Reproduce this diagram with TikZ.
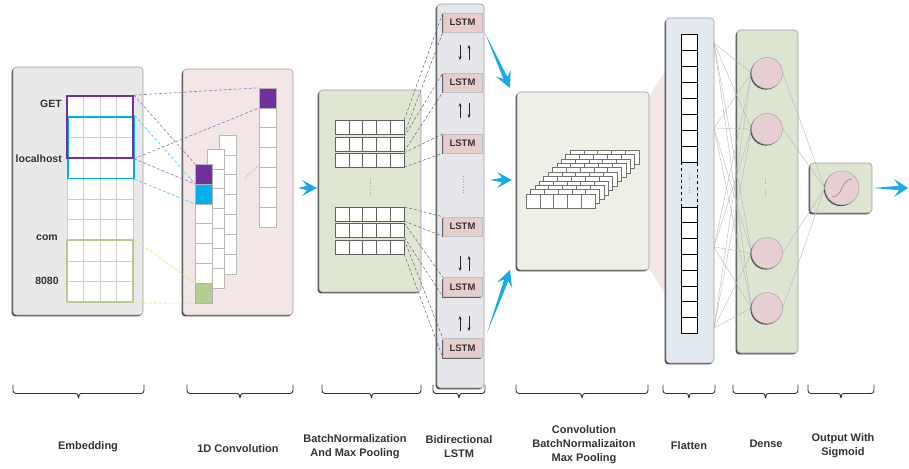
\documentclass[tikz,border=0pt]{standalone}
\usepackage{fontspec}
\setmainfont{Liberation Sans}
\usetikzlibrary{calc,fit,shadows,arrows.meta}
\definecolor{embfill}{HTML}{E9E9E9}
\definecolor{convfill}{HTML}{F2E6E6}
\definecolor{bnfill}{HTML}{DFE6D2}
\definecolor{lstmfill}{HTML}{E5E7ED}
\definecolor{cbfill}{HTML}{EEF0E8}
\definecolor{flatfill}{HTML}{E4EAF2}
\definecolor{densefill}{HTML}{DDE5D1}
\definecolor{purp}{HTML}{7030A0}
\definecolor{cyanc}{HTML}{00B0F0}
\definecolor{greenc}{HTML}{B4CC8E}
\definecolor{lstmbox}{HTML}{E8CDCD}
\definecolor{circfill}{HTML}{E8CFD4}
\definecolor{arrblue}{HTML}{18A9E6}
\definecolor{pinkish}{HTML}{F3E8E8}
\definecolor{txt}{HTML}{333333}
\newcommand\bluearr[5]{%
  \coordinate (bah) at ($(#2)!#3!(#1)$);
  \coordinate (ban) at ($(#2)!#4!(#1)$);
  \fill[arrblue] (#1) -- ($(ban)!2.2pt!90:(#2)$) -- ($(bah)!#5!90:(#2)$) -- (#2)
    -- ($(bah)!#5!-90:(#2)$) -- ($(ban)!2.2pt!-90:(#2)$) -- cycle;}
\newcommand\mybrace[2]{%
  \draw[brc] (#1,384.5) -- (#1,393.5) -- ({(#1+#2)/2-4},393.5);
  \draw[brc] (#2,384.5) -- (#2,393.5) -- ({(#1+#2)/2+4},393.5);
  \draw[draw=black!80, line width=0.9pt, line join=round]
    ({(#1+#2)/2-4.5},393.5) .. controls ({(#1+#2)/2-1},393.5) .. ({(#1+#2)/2},398)
    .. controls ({(#1+#2)/2+1},393.5) .. ({(#1+#2)/2+4.5},393.5);}
\begin{document}
\begin{tikzpicture}[x=1pt,y=-1pt,
  panel/.style={draw=black!38, line width=0.6pt, rounded corners=3.5pt, inner sep=0pt,
    drop shadow={shadow xshift=-1.4pt,shadow yshift=-1.4pt,fill=black!72,opacity=1}},
  colcell/.style={draw=black!28, fill=white, line width=0.6pt},
  bncell/.style={draw=black!62, fill=white, line width=0.6pt},
  stackcell/.style={draw=black!55, fill=white, line width=0.45pt},
  flatcell/.style={draw=black, fill=white, line width=0.95pt},
  lab/.style={font=\bfseries\fontsize{10.5}{12}\selectfont, text=txt, inner sep=0pt},
  blab/.style={font=\bfseries\fontsize{11}{14}\selectfont, text=txt, inner sep=0pt, align=center},
  lstm/.style={draw=black!25, fill=lstmbox, minimum width=39pt, minimum height=19pt, inner sep=0pt,
    font=\bfseries\fontsize{9.5}{10}\selectfont, text=txt,
    drop shadow={shadow xshift=-1.1pt,shadow yshift=-1.1pt,fill=black!60,opacity=1}},
  neuron/.style={circle, draw=black!35, fill=circfill, inner sep=0pt, line width=0.5pt,
    drop shadow={shadow xshift=-1.1pt,shadow yshift=-1.1pt,fill=black!70,opacity=1}},
  pdash/.style={draw=purp!70, dash pattern=on 3pt off 2pt, line width=0.6pt},
  cdash/.style={draw=cyanc!75, dash pattern=on 3pt off 2pt, line width=0.6pt},
  gdash/.style={draw=greenc!70!yellow!80, dash pattern=on 3pt off 2pt, line width=0.6pt},
  kdash/.style={draw=black!60, dash pattern=on 3pt off 2pt, line width=0.5pt},
  nn/.style={draw=black!30, line width=0.35pt},
  tinyarr/.style={-{Stealth[length=3.5pt,width=3pt]}, line width=0.8pt, draw=black!85},
  brc/.style={draw=black!80, line width=0.9pt, rounded corners=3pt},
  vdots/.style={draw=black!35, dotted, line width=0.7pt}
]
\useasboundingbox (0,0) rectangle (909,468);

% ---------------- Embedding ----------------
\node[panel, fill=embfill, fit={(13,67) (143,315)}] (emb) {};
\fill[white] (67,96) rectangle (133,302);
\foreach \i in {0,...,4} \draw[draw=black!20, line width=0.5pt] ({67+16.5*\i},96) -- ({67+16.5*\i},302);
\foreach \j in {0,...,10} \draw[draw=black!20, line width=0.5pt] (67,{96+20.6*\j}) -- (133,{96+20.6*\j});
\node[draw=cyanc, line width=1.8pt, inner sep=0pt, fit={(68,116.6) (134,178.4)}] (cbox) {};
\node[draw=purp, line width=1.8pt, inner sep=0pt, fit={(67,96) (133,157.8)}] (pbox) {};
\node[draw=greenc, line width=1.8pt, inner sep=0pt, fit={(67,240.2) (133,302)}] (gbox) {};
\node[lab, anchor=east] (tget) at (62,104) {GET};
\node[lab, anchor=east] (tloc) at (62,159) {localhost};
\node[lab] (tcom) at (47,238) {com};
\node[lab] (t8080) at (47,281) {8080};

% ---------------- 1D Convolution ----------------
\node[panel, fill=convfill, fit={(183,69) (293,315)}] (conv) {};
\foreach \x/\y in {219/135, 207/149, 195/164}
  \foreach \k in {0,...,6} \draw[colcell] (\x,{\y+19.86*\k}) rectangle ++(17,19.86);
\foreach \k in {0,...,6} \draw[colcell] (259,{88+19.86*\k}) rectangle ++(17,19.86);
\node[fill=purp, draw=black!30, inner sep=0pt, fit={(259,88) (276,107.86)}] (tp) {};
\node[fill=purp, draw=black!30, inner sep=0pt, fit={(195,164) (212,183.86)}] (fp) {};
\node[fill=cyanc, draw=black!30, inner sep=0pt, fit={(195,183.86) (212,203.72)}] (fc) {};
\node[fill=greenc, draw=black!30, inner sep=0pt, fit={(195,283.14) (212,303)}] (fg) {};
\coordinate (fa1) at (245,178);
\coordinate (fa2) at (258,166);
\draw[draw=black!30, dash pattern=on 1.5pt off 1.5pt, line width=0.5pt] (fa1) -- (fa2);

% dashed connectors embedding -> conv
\draw[pdash] (pbox.north east) -- (tp.north west);
\draw[pdash] (pbox.south east) -- (tp.south west);
\draw[pdash] (pbox.north east) -- (fp.north west);
\draw[pdash] (pbox.south east) -- (fp.south west);
\draw[cdash] (cbox.north east) -- (fc.north west);
\draw[cdash] (cbox.south east) -- (fc.south west);
\draw[gdash] (gbox.north east) -- (fg.north west);
\draw[gdash] (gbox.south east) -- (fg.south west);

% ---------------- BatchNorm + MaxPool ----------------
\node[panel, fill=bnfill, fit={(319,90) (421,292)}] (bn) {};
\foreach \i/\y in {1/120,2/137,3/153,4/207,5/223,6/240}{
  \foreach \c in {0,...,4} \draw[bncell] ({335+13.8*\c},\y) rectangle ++(13.8,14);
  \node[inner sep=0pt, fit={(335,\y) (404,{\y+14})}] (r\i) {};
}
\draw[vdots] (370,178) -- (370,196);

% ---------------- Bidirectional LSTM ----------------
\node[panel, fill=lstmfill, fit={(437,4) (484,388)}] (bl) {};
\foreach \i/\y in {1/22.5,2/82.5,3/143.5,4/226.5,5/287,6/348}
  \node[lstm] (l\i) at (462.5,\y) {LSTM};
\foreach \i in {1,...,6}{
  \draw[kdash] (r\i.north east) -- (l\i.north west);
  \draw[kdash] (r\i.south east) -- (l\i.south west);
}
\draw[tinyarr] (460,45) -- (460,60);  \draw[tinyarr] (469,60) -- (469,45);
\draw[tinyarr] (460,118) -- (460,103); \draw[tinyarr] (469,103) -- (469,118);
\draw[tinyarr] (460,256) -- (460,271); \draw[tinyarr] (469,271) -- (469,256);
\draw[tinyarr] (460,331) -- (460,316); \draw[tinyarr] (469,316) -- (469,331);
\draw[vdots] (463,176) -- (463,194);

% ---------------- Conv / BN / MaxPool block ----------------
\fill[pinkish] (649,96) -- (666,70) -- (666,296) -- (649,268) -- cycle;
\node[panel, fill=cbfill, fit={(517,92) (649,270)}] (cb) {};
\foreach \k in {10,9,...,0}
  \foreach \c in {0,...,4}
    \draw[stackcell] ({526+4.4*\k+13.8*\c},{194-4.4*\k}) rectangle ++(13.8,14);

% ---------------- Flatten ----------------
\node[panel, fill=flatfill, fit={(666,18) (714,363)}] (fl) {};
\foreach \k in {0,...,7} \draw[flatcell] (681,{34+16*\k}) rectangle ++(16,16);
\foreach \k in {0,...,7} \draw[flatcell] (681,{207+15.8*\k}) rectangle ++(16,15.8);
\draw[draw=black, dashed, line width=0.95pt] (681,162) rectangle (697,207);
\draw[vdots] (689,174) -- (689,180);
\draw[vdots] (689,187) -- (689,193);

% ---------------- Dense ----------------
\node[panel, fill=densefill, fit={(737,30) (798,353)}] (dn) {};
\coordinate (fo1) at (714,43);
\coordinate (fo2) at (714,128);
\coordinate (fo3) at (714,247);
\coordinate (fo4) at (714,328);
\foreach \i/\y in {1/73,2/129,3/253,4/308}
  \coordinate (dpos\i) at (767,\y);
\foreach \a in {1,...,4}
  \foreach \b in {1,...,4}
    \draw[nn] (fo\a) -- ($(dpos\b)+(-15.5,0)$);
\foreach \i in {1,...,4}
  \node[neuron, minimum size=31pt] (d\i) at (dpos\i) {};
\draw[vdots] (765,178) -- (765,184);
\draw[vdots] (765,190) -- (765,196);

% ---------------- Output ----------------
\node[panel, fill=densefill, fit={(810,163) (872,213)}] (op) {};
\node[neuron, minimum size=34pt] (out) at (842,188) {};
\foreach \i in {1,...,4} \draw[nn] (d\i.east) -- (out.west);
\draw[draw=black!55, line width=0.45pt] (832,197) .. controls (843,197) and (841,179) .. (852,179);

% ---------------- Blue arrows ----------------
\coordinate (a1s) at (298,188); \coordinate (a1e) at (317,188);
\bluearr{a1s}{a1e}{15pt}{10pt}{8pt}
\coordinate (a2s) at (485,33); \coordinate (a2e) at (510,88);
\bluearr{a2s}{a2e}{16pt}{11pt}{8pt}
\coordinate (a3s) at (490,180); \coordinate (a3e) at (512,180);
\bluearr{a3s}{a3e}{15pt}{10pt}{8pt}
\coordinate (a4s) at (487,333); \coordinate (a4e) at (510,270);
\bluearr{a4s}{a4e}{16pt}{11pt}{8pt}
\coordinate (a5s) at (873,188); \coordinate (a5e) at (908,188);
\bluearr{a5s}{a5e}{14pt}{9pt}{9pt}

% ---------------- Braces ----------------
\foreach \xa/\xb in {13/144, 187/293, 322/421, 433/485, 516/648, 663/715, 733/798, 808/874}{
  \mybrace{\xa}{\xb}
}

% ---------------- Labels ----------------
\node[blab] (lemb) at (88,447) {Embedding};
\node[blab] (lconv) at (238,449) {1D Convolution};
\node[blab] (lbn) at (355,447) {BatchNormalization\\And Max Pooling};
\node[blab] (llstm) at (459,447) {Bidirectional\\LSTM};
\node[blab] (lcb) at (584,445) {Convolution\\BatchNormalizaiton\\Max Pooling};
\node[blab] (lfl) at (689,446) {Flatten};
\node[blab] (ldn) at (766,444) {Dense};
\node[blab] (lout) at (843,446) {Output With\\Sigmoid};
\end{tikzpicture}
\end{document}
